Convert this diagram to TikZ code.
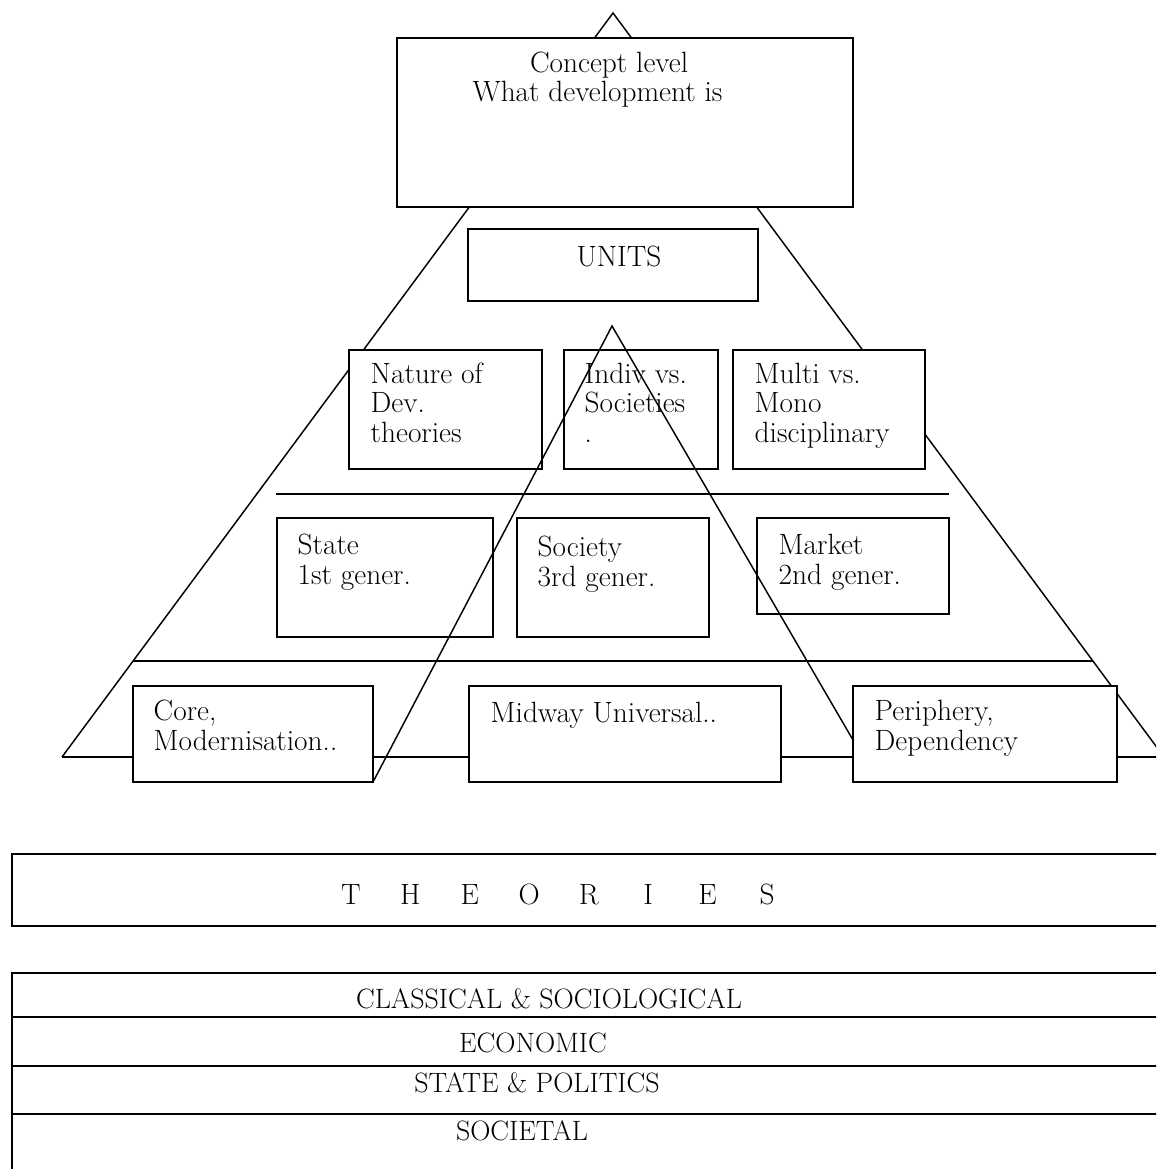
\documentclass[tikz,border=0pt]{standalone}
\usepackage{fontspec}
\usetikzlibrary{calc}
\begin{document}
\begin{tikzpicture}[x=0.75pt,y=-0.75pt,line width=1.1pt,
  bx/.style={draw,fill=white,line width=1.1pt,anchor=north west,inner sep=0pt,outer sep=0pt},
  lbl/.style={anchor=base west,align=left,inner sep=0pt,font=\fontsize{22}{22}\selectfont},
  ctr/.style={anchor=base,inner sep=0pt,font=\fontsize{22}{22}\selectfont},
  captxt/.style={anchor=base,inner sep=0pt,font=\fontsize{21}{22}\selectfont}]
\useasboundingbox (0,0) rectangle (1156,1169);
\clip (0,0) rectangle (1156,1169);

% large pyramid
\coordinate (A) at (613,13);
\coordinate (BL) at (62,757);
\coordinate (BR) at (1164,757);
\draw[line join=miter] (BL) -- (A) -- (BR);
\draw[line width=1.3pt] (BL) -- (BR);
\draw ($(A)!0.8710!(BL)$) -- ($(A)!0.8710!(BR)$);
\coordinate (h1l) at (276,494);
\coordinate (h1r) at (949,494);
\draw (h1l) -- (h1r);

% boxes
\node[bx,minimum width=342pt,minimum height=126.75pt] (concept) at (397,38) {};
\node[bx,minimum width=217.5pt,minimum height=54pt] (units) at (468,229) {};
\node[bx,minimum width=144.75pt,minimum height=89.25pt] (nature) at (349,350) {};
\node[bx,minimum width=115.5pt,minimum height=89.25pt] (indiv) at (564,350) {};
\node[bx,minimum width=144pt,minimum height=89.25pt] (multi) at (733,350) {};
\node[bx,minimum width=162pt,minimum height=89.25pt] (state) at (277,518) {};
\node[bx,minimum width=144pt,minimum height=89.25pt] (society) at (517,518) {};
\node[bx,minimum width=144pt,minimum height=72pt] (market) at (757,518) {};
\node[bx,minimum width=180pt,minimum height=72pt] (core) at (133,686) {};
\node[bx,minimum width=234pt,minimum height=72pt] (midway) at (469,686) {};
\node[bx,minimum width=198pt,minimum height=72pt] (periph) at (853,686) {};

% texts (anchor = baseline of last line)
\node[lbl] (tconcept) at (472,102) {\hspace*{43pt}Concept level\\What development is};
\node[ctr] (tunits) at (619,267) {UNITS};
\node[lbl] (tnature) at (370,442) {Nature of\\Dev.\\theories};
\node[lbl] (tindiv) at (584,442) {Indiv vs.\\Societies\\.};
\node[lbl] (tmulti) at (754,442) {Multi vs.\\Mono\\disciplinary};
\node[lbl] (tstate) at (297,584) {State\\1st gener.};
\node[lbl] (tsociety) at (537,586) {Society\\3rd gener.};
\node[lbl] (tmarket) at (778,584) {Market\\2nd gener.};
\node[lbl] (tcore) at (153,750) {Core,\\Modernisation..};
\node[lbl] (tmidway) at (490,722) {Midway Universal..};
\node[lbl] (tperiph) at (874,750) {Periphery,\\Dependency};

% inner pyramid
\coordinate (T2) at (612,326);
\coordinate (T2r) at (853,740);
\draw[line join=miter] (core.south east) -- (T2) -- (T2r);

% theories
\node[bx,minimum width=870pt,minimum height=54pt] (theories) at (12,854) {};
\node[ctr] (ttheories) at (559,904) {\makebox[44.6pt]{T}\makebox[44.6pt]{H}\makebox[44.6pt]{E}\makebox[44.6pt]{O}\makebox[44.6pt]{R}\makebox[44.6pt]{I}\makebox[44.6pt]{E}\makebox[44.6pt]{S}};

% table
\node[bx,minimum width=870pt,minimum height=160pt] (table) at (12,973) {};
\coordinate (r1l) at (12,1017); \coordinate (r1r) at (1170,1017);
\coordinate (r2l) at (12,1066); \coordinate (r2r) at (1170,1066);
\coordinate (r3l) at (12,1114); \coordinate (r3r) at (1170,1114);
\draw (r1l) -- (r1r);
\draw (r2l) -- (r2r);
\draw (r3l) -- (r3r);
\node[captxt] (tclass) at (549,1008) {CLASSICAL \& SOCIOLOGICAL};
\node[captxt] (tecon) at (533,1052) {ECONOMIC};
\node[captxt] (tstatep) at (537,1092) {STATE \& POLITICS};
\node[captxt] (tsoc) at (522,1140) {SOCIETAL};
\end{tikzpicture}
\end{document}
